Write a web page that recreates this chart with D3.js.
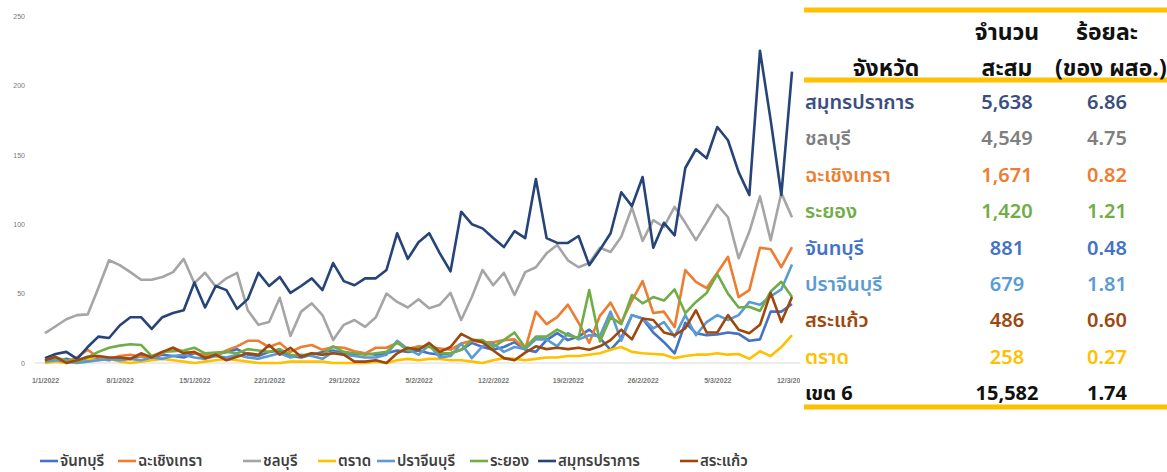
<!DOCTYPE html>
<html>
<head>
<meta charset="utf-8">
<script src="https://cdn.jsdelivr.net/npm/d3@7"></script>
<style>
  body { margin: 0; background: #fff; }
  svg { display: block; font-family: "Noto Sans Thai", "Noto Sans", sans-serif; }
</style>
</head>
<body>
<div id="container"></div>
<script>
// daily cases, 1/1/2022 .. 12/3/2022
const startDate = new Date(2022, 0, 1);
const endDate = new Date(2022, 2, 12);
const yTicks = [0, 50, 100, 150, 200, 250];

const chanthaburi = [2,1,3,1,2,3,2,4,3,5,4,6,5,4,7,5,6,8,10,6,5,8,9,5,4,6,8,9,7,6,7,6,7,9,8,9,7,6,7,9.5,14.5,11.5,9.5,11.5,15,9.5,8,16.5,21.5,16.5,19,24,18,9.5,18,34.5,32,22,15,7,29,21.5,20,20.5,22,21,16,17,37,37,42.5];
const chachoengsao = [1,3,1,4,9.5,4,3,5,6,4.5,4,7,11,8,7,6,5,9,12,16,16,11.5,14.5,8,11.5,13,9.5,11.5,11,8.5,7,11,11,14.5,10,12,11.5,10.5,9.5,14,16,15,15,16.5,17,10,37,28,33,42,29,14.5,34,43.5,29,45,59,36,37,26,67,58.5,54,65,76.5,47.5,52.5,83,82,69,83.5];
const chonburi = [21.5,26.5,31.5,34.5,35,54,74,70.5,65.5,60,60,62,65.5,75,57.5,65,55,61,65,38,27.5,29.5,47,19.5,37,43,34.5,16.5,27.5,31,26,33,50,44,40,46,39.5,42,50.5,31,47.5,67,56,65,49,65.5,69,79,85,74,69,72,83,80,91,112,88,103,98,112.5,101,88.5,101,114,105,75.5,94.5,120,88.5,122.5,105];
const trat = [0,1,0,2,3,2,3,1,0,1,2,3,2,1,0,1,2,3,2,1,0,0,0,1,1,1,1,0,0,0,0,1,0,2,3,2,3,3,2,2,1,0,2,3.5,3,2,3,4,4,5,5,6,7,9.5,11.5,8,7,6.5,6,3.5,5,6,6,7,6,6.5,3,8.5,5,11.5,20];
const prachinburi = [1,2,1,0,1,2,3,2,3,2,4,3,5,6,4,3,5,4,6,4,3,5,7,4,6,5,3,8,6,5,4,4,6,16,10,6,13,4,5,14,3.5,12,14,8,11.5,10,17,17,12,21.5,17,20,19.5,37,16,34.5,32,25,29.5,19,34.5,20,29.5,34.5,31,34.5,44,42,48,53,71];
const rayong = [2,4,2,1,4,8,11,12.5,13.5,13,5,8,8.5,9,11,7,7.5,8,7,10,9,8,10,6,5,7,6,12,8,7,6,7,8,15,9,11,12,7,7,9.5,16.5,16.5,11.5,16.5,22,11,19,19,24,20,18,52.5,15.5,33,28,49,43,47.5,45,53,36,44,50.5,64,50,40,40.5,37.5,51.5,58.5,47.5];
const samutprakan = [3.5,6.5,8,3,11.5,19,18,27,33,33,24.5,33,36,38,58,40,55.5,52.5,39,46,65,55.5,62,50.5,55.5,61,52.5,72,59,56,61,61,67,93.5,75,87,93.5,79,66,109,100,97,90,83.5,95,90,132.5,90,86.5,86.5,91.5,70.5,81.5,93.5,123,113,134,83,101,92,140.5,154,147.5,170,160.5,137.5,121,225,175,121,210];
const sakaeo = [2,4.5,0,2,4.5,5,4,4,3,7,4,8,11,7,8,3.5,6,2,4.5,7,6,13,6,11,4.5,7,6,7,6,1,1,2,0,7,11,9.5,14.5,8,11.5,21,17,15,9,3.5,2,7.5,12,10,11,10,11,9.5,12,16.5,24,17,32,31,22,20,25,38,22,22,34.5,24,21.5,27.5,50.5,29.5,47.5];

const seriesNames = ["จันทบุรี", "ฉะเชิงเทรา", "ชลบุรี", "ตราด", "ปราจีนบุรี", "ระยอง", "สมุทรปราการ", "สระแก้ว"];
const seriesColors = ["#4472C4", "#ED7D31", "#A5A5A5", "#FFC000", "#5B9BD5", "#70AD47", "#264478", "#9E480E"];
const seriesValues = [chanthaburi, chachoengsao, chonburi, trat, prachinburi, rayong, samutprakan, sakaeo];

// summary table
const tableProvinces = ["สมุทรปราการ", "ชลบุรี", "ฉะเชิงเทรา", "ระยอง", "จันทบุรี", "ปราจีนบุรี", "สระแก้ว", "ตราด", "เขต 6"];
const tableCumulative = ["5,638", "4,549", "1,671", "1,420", "881", "679", "486", "258", "15,582"];
const tablePercent = ["6.86", "4.75", "0.82", "1.21", "0.48", "1.81", "0.60", "0.27", "1.74"];
const tableColors = ["#3A4E80", "#7F7F7F", "#ED7D31", "#70AD47", "#4472C4", "#5B9BD5", "#9E480E", "#FFC000", "#111111"];

const width = 1167, height = 472;
const svg = d3.select('#container').append('svg')
    .attr('width', width)
    .attr('height', height);

const x = d3.scaleTime().domain([startDate, endDate]).range([45, 792]);
const y = d3.scaleLinear().domain([0, 250]).range([363, 16]);
const dates = d3.timeDay.range(startDate, d3.timeDay.offset(endDate, 1));

// baseline
svg.append('line')
   .attr('x1', 35).attr('x2', 800)
   .attr('y1', y(0)).attr('y2', y(0))
   .attr('stroke', '#d9d9d9').attr('stroke-width', 1);

const yAxis = d3.axisLeft(y).tickValues(yTicks).tickSize(0).tickPadding(0);
svg.append('g')
   .attr('transform', 'translate(25,0)')
   .call(yAxis)
   .call(g => g.select('.domain').remove())
   .selectAll('text')
   .attr('font-size', 7)
   .attr('fill', '#777')
   .attr('font-family', 'Arial, "Liberation Sans", sans-serif');

const xAxis = d3.axisBottom(x)
    .tickValues(d3.timeDay.range(startDate, d3.timeDay.offset(endDate, 1), 7))
    .tickFormat(d3.timeFormat('%-d/%-m/%Y'))
    .tickSize(0).tickPadding(0);
svg.append('g')
   .attr('transform', `translate(0,${y(0) + 15})`)
   .call(xAxis)
   .call(g => g.select('.domain').remove())
   .selectAll('text')
   .attr('font-size', 7)
   .attr('font-weight', 'bold')
   .attr('fill', '#777')
   .attr('font-family', 'Arial, "Liberation Sans", sans-serif');

const line = d3.line()
    .x((d, i) => x(dates[i]))
    .y(d => y(d));

svg.append('g')
   .selectAll('path')
   .data(seriesValues)
   .enter()
   .append('path')
   .attr('d', line)
   .attr('fill', 'none')
   .attr('stroke', (d, i) => seriesColors[i])
   .attr('stroke-width', 2.6)
   .attr('stroke-linejoin', 'round');

// legend
const legendX = [40, 118, 243, 318, 377, 470, 538, 680];
const legend = svg.append('g').attr('transform', 'translate(0,461)');
const items = legend.selectAll('g')
    .data(seriesNames)
    .enter()
    .append('g')
    .attr('transform', (d, i) => `translate(${legendX[i]},0)`);
items.append('line')
     .attr('x1', 0).attr('x2', 18)
     .attr('stroke', (d, i) => seriesColors[i])
     .attr('stroke-width', 2.6);
items.append('text')
     .attr('x', 20).attr('y', 5)
     .attr('font-size', 15)
     .attr('font-weight', 600)
     .attr('fill', '#404040')
     .text(d => d);

// table
const table = svg.append('g');
table.append('rect')
     .attr('x', 800).attr('y', 0)
     .attr('width', width - 800).attr('height', height)
     .attr('fill', '#fff');

const yellow = '#FFC000';
[[10, 5], [80, 5], [407, 5]].forEach(([ly, lw]) => {
  table.append('line')
       .attr('x1', 804).attr('x2', width)
       .attr('y1', ly).attr('y2', ly)
       .attr('stroke', yellow).attr('stroke-width', lw);
});

const colNum = 1007, colPct = 1107;
const header = [
  {t: 'จำนวน', x: colNum, y: 40, a: 'middle'},
  {t: 'ร้อยละ', x: colPct, y: 40, a: 'middle'},
  {t: 'จังหวัด', x: 886, y: 76, a: 'middle'},
  {t: 'สะสม', x: colNum, y: 76, a: 'middle'},
  {t: '(ของ ผสอ.)', x: 1055, y: 76, a: 'start'}
];
table.selectAll('text.header')
     .data(header)
     .enter()
     .append('text')
     .attr('class', 'header')
     .attr('x', d => d.x).attr('y', d => d.y)
     .attr('text-anchor', d => d.a)
     .attr('font-size', 23)
     .attr('font-weight', 'bold')
     .attr('fill', '#111')
     .text(d => d.t);

const rowY = d3.scaleLinear().domain([0, 8]).range([109, 400]);
const rows = table.selectAll('g.row')
    .data(tableProvinces)
    .enter()
    .append('g')
    .attr('class', 'row')
    .attr('transform', (d, i) => `translate(0,${rowY(i)})`)
    .attr('fill', (d, i) => tableColors[i])
    .attr('font-size', 20)
    .attr('font-weight', (d, i) => i === 8 ? 'bold' : 600);
rows.append('text').attr('x', 805).text(d => d);
rows.append('text').attr('x', colNum).attr('text-anchor', 'middle').text((d, i) => tableCumulative[i]);
rows.append('text').attr('x', colPct).attr('text-anchor', 'middle').text((d, i) => tablePercent[i]);
</script>
</body>
</html>
